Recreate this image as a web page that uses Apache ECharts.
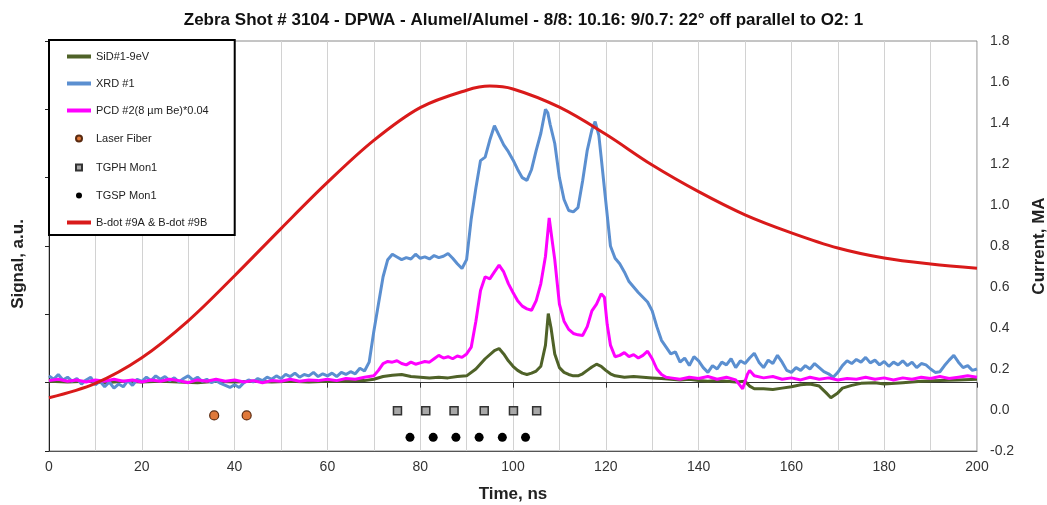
<!DOCTYPE html>
<html>
<head>
<meta charset="utf-8">
<script src="https://cdn.jsdelivr.net/npm/echarts@6/dist/echarts.min.js"></script>
<style>
  html, body { margin: 0; padding: 0; background: #ffffff; }
  #chart { width: 1047px; height: 505px; }
</style>
</head>
<body>
<div id="chart"></div>
<script>
// Axis tick values
const timeTicks = [0, 20, 40, 60, 80, 100, 120, 140, 160, 180, 200];
const currentTicks = [-0.2, 0.0, 0.2, 0.4, 0.6, 0.8, 1.0, 1.2, 1.4, 1.6, 1.8];

// SiD#1-9eV (signal, a.u.)
const sidTime = [0, 4, 8, 12, 16, 20, 24, 28, 32, 36, 40, 44, 48, 52, 56, 60, 63, 66, 68, 70, 72, 74, 76, 78, 80, 82, 84, 86, 88, 90, 92, 94, 96, 97, 98, 99, 100, 101, 102, 103, 104, 105, 106, 107, 107.6, 108.2, 109, 110, 111, 112, 113, 114, 115, 116, 117, 118, 119, 120, 121, 122, 124, 126, 128, 130, 132, 134, 136, 138, 140, 142, 144, 146, 148, 150, 151, 152, 154, 156, 158, 160, 162, 164, 166, 167.5, 168.5, 170, 171, 173, 175, 178, 180, 184, 188, 192, 196, 200];
const sidValue = [0.02, 0.01, 0.02, 0.00, 0.02, 0.01, 0.02, 0.01, 0.00, 0.02, 0.01, 0.02, 0.01, 0.02, 0.01, 0.02, 0.02, 0.03, 0.03, 0.05, 0.09, 0.11, 0.12, 0.09, 0.08, 0.07, 0.08, 0.07, 0.09, 0.10, 0.20, 0.35, 0.47, 0.50, 0.42, 0.32, 0.24, 0.18, 0.14, 0.12, 0.14, 0.17, 0.24, 0.55, 1.01, 0.80, 0.42, 0.22, 0.15, 0.12, 0.10, 0.10, 0.13, 0.18, 0.23, 0.27, 0.24, 0.18, 0.13, 0.10, 0.08, 0.09, 0.08, 0.07, 0.06, 0.05, 0.04, 0.05, 0.03, 0.02, 0.03, 0.02, 0.01, 0.02, -0.05, -0.09, -0.09, -0.10, -0.08, -0.06, -0.03, -0.02, -0.05, -0.15, -0.22, -0.15, -0.08, -0.04, -0.01, 0.00, -0.02, 0.00, 0.02, 0.03, 0.04, 0.05];

// XRD #1 (signal, a.u.)
const xrdTime = [
  0, 1, 2, 3, 4, 5, 6, 7, 8, 9, 10, 11, 12, 13, 14, 15, 16, 17, 18, 19,
  20, 21, 22, 23, 24, 25, 26, 27, 28, 29, 30, 31, 32, 33, 34, 35, 36, 37, 38, 39,
  40, 41, 42, 43, 44, 45, 46, 47, 48, 49, 50, 51, 52, 53, 54, 55, 56, 57, 58, 59,
  60, 61, 62, 63, 64, 65, 66, 67, 68, 69, 70, 71, 72, 73, 74, 75, 76, 77, 78, 79,
  80, 81, 82, 83, 84, 85, 86, 87, 88, 89, 90, 91, 92, 93, 94, 95, 96, 97, 98, 99,
  100, 101, 102, 103, 104, 105, 106, 107, 107.5, 108, 109, 110, 111, 112, 113, 114, 115, 116, 117, 117.7,
  118.5, 119, 120, 121, 122, 123, 124, 125, 126, 127, 128, 129, 130, 131, 132, 133, 134, 135, 136, 137,
  138, 139, 140, 141, 142, 143, 144, 145, 146, 147, 148, 149, 150, 151, 152, 153, 154, 155, 156, 157,
  158, 159, 160, 161, 162, 163, 164, 165, 166, 167, 168, 169, 170, 171, 172, 173, 174, 175, 176, 177,
  178, 179, 180, 181, 182, 183, 184, 185, 186, 187, 188, 189, 190, 191, 192, 193, 194, 195, 196, 197,
  198, 199, 200
];
const xrdValue = [
  0.10, 0.05, 0.12, 0.04, 0.08, 0.02, 0.06, -0.02, 0.04, 0.08, -0.03, 0.02, -0.06, 0.01, -0.08, -0.02, -0.06, 0.03, -0.04, 0.05,
  0.02, 0.08, 0.03, 0.10, 0.05, 0.09, 0.03, 0.07, 0.01, 0.06, 0.10, 0.04, 0.08, 0.02, 0.05, 0.00, 0.03, -0.01, -0.04, -0.07,
  -0.03, -0.07, 0.00, 0.04, 0.01, 0.06, 0.03, 0.08, 0.05, 0.10, 0.06, 0.12, 0.09, 0.14, 0.08, 0.12, 0.10, 0.15, 0.09, 0.13,
  0.10, 0.14, 0.09, 0.15, 0.12, 0.16, 0.13, 0.21, 0.17, 0.30, 0.75, 1.15, 1.55, 1.80, 1.88, 1.84, 1.80, 1.83, 1.81, 1.88,
  1.82, 1.84, 1.81, 1.86, 1.83, 1.85, 1.89, 1.82, 1.74, 1.67, 1.80, 2.40, 2.85, 3.25, 3.30, 3.55, 3.76, 3.62, 3.48, 3.38,
  3.26, 3.12, 3.00, 2.96, 3.12, 3.40, 3.65, 4.00, 3.95, 3.78, 3.50, 3.00, 2.68, 2.52, 2.50, 2.56, 2.95, 3.40, 3.70, 3.82,
  3.62, 3.30, 2.65, 2.00, 1.82, 1.74, 1.62, 1.48, 1.40, 1.32, 1.25, 1.18, 1.05, 0.82, 0.62, 0.52, 0.42, 0.45, 0.30, 0.36,
  0.25, 0.38, 0.32, 0.22, 0.15, 0.25, 0.20, 0.30, 0.26, 0.35, 0.22, 0.32, 0.28, 0.36, 0.43, 0.30, 0.22, 0.33, 0.28, 0.40,
  0.30, 0.18, 0.15, 0.22, 0.18, 0.25, 0.20, 0.28, 0.22, 0.16, 0.13, 0.08, 0.15, 0.25, 0.32, 0.28, 0.34, 0.30, 0.37, 0.29,
  0.33, 0.26, 0.31, 0.24, 0.30, 0.26, 0.32, 0.25, 0.30, 0.22, 0.28, 0.26, 0.20, 0.15, 0.16, 0.25, 0.33, 0.40, 0.30, 0.22,
  0.25, 0.18, 0.20
];

// PCD #2 (8 µm Be) scaled by 0.04 (signal, a.u.)
const pcdTime = [0, 2, 4, 6, 8, 10, 12, 14, 16, 18, 20, 22, 24, 26, 28, 30, 32, 34, 36, 38, 40, 42, 44, 46, 48, 50, 52, 54, 56, 58, 60, 62, 64, 66, 68, 70, 71, 72, 73, 74, 75, 76, 77, 78, 79, 80, 81, 82, 83, 84, 85, 86, 87, 88, 89, 90, 91, 92, 93, 94, 95, 96, 97, 98, 99, 100, 101, 102, 103, 104, 105, 106, 107, 107.8, 108.5, 109, 110, 111, 112, 113, 114, 115, 116, 117, 118, 119, 119.7, 120.3, 121, 122, 123, 124, 125, 126, 127, 128, 129, 130, 131, 132, 133, 134, 136, 138, 140, 142, 144, 146, 148, 149.5, 150.5, 151, 152, 154, 156, 158, 160, 162, 164, 166, 168, 170, 172, 174, 176, 178, 180, 182, 184, 186, 188, 190, 192, 194, 196, 198, 200];
const pcdValue = [0.03, 0.05, 0.02, 0.04, 0.01, 0.04, 0.02, 0.05, 0.02, 0.04, 0.01, 0.04, 0.02, 0.05, 0.03, 0.00, 0.04, 0.02, 0.05, 0.02, 0.04, 0.01, 0.03, 0.00, 0.03, 0.02, 0.05, 0.02, 0.04, 0.03, 0.05, 0.03, 0.06, 0.05, 0.08, 0.10, 0.18, 0.28, 0.31, 0.30, 0.32, 0.28, 0.26, 0.30, 0.27, 0.29, 0.31, 0.30, 0.35, 0.40, 0.36, 0.38, 0.35, 0.39, 0.37, 0.42, 0.52, 0.90, 1.35, 1.55, 1.52, 1.62, 1.72, 1.62, 1.45, 1.32, 1.20, 1.12, 1.08, 1.06, 1.20, 1.45, 1.85, 2.41, 2.05, 1.80, 1.15, 0.90, 0.78, 0.72, 0.70, 0.69, 0.82, 1.05, 1.15, 1.30, 1.25, 0.85, 0.55, 0.38, 0.40, 0.44, 0.38, 0.41, 0.36, 0.40, 0.46, 0.35, 0.20, 0.12, 0.08, 0.07, 0.05, 0.08, 0.06, 0.09, 0.05, 0.08, 0.04, -0.09, 0.12, 0.18, 0.10, 0.07, 0.09, 0.05, 0.07, 0.04, 0.08, 0.05, 0.07, 0.04, 0.06, 0.05, 0.08, 0.05, 0.07, 0.04, 0.07, 0.05, 0.08, 0.06, 0.09, 0.06, 0.08, 0.10, 0.08];

// Diagnostic timing markers (signal, a.u.)
const laserTime = [35.6, 42.6];
const laserValue = [-0.48, -0.48];
const tgphTime = [75.1, 81.2, 87.3, 93.8, 100.1, 105.1];
const tgphValue = [-0.41, -0.41, -0.41, -0.41, -0.41, -0.41];
const tgspTime = [77.8, 82.8, 87.7, 92.7, 97.7, 102.7];
const tgspValue = [-0.80, -0.80, -0.80, -0.80, -0.80, -0.80];

// B-dot #9A & #9B current (MA)
const bdotTime = [0, 10, 20, 30, 40, 50, 60, 70, 80, 90, 95, 100, 110, 120, 130, 140, 150, 160, 170, 180, 190, 200];
const bdotValue = [0.06, 0.13, 0.255, 0.435, 0.655, 0.885, 1.11, 1.315, 1.475, 1.56, 1.58, 1.566, 1.477, 1.345, 1.195, 1.065, 0.952, 0.864, 0.79, 0.741, 0.712, 0.692];

const pairs = (t, v) => t.map((x, i) => [x, v[i]]);

const SANS = '"Liberation Sans", Arial, sans-serif';
const lineIcon = 'path://M0,0H24V4H0Z';
const dotIcon = 'path://M0,0M24,13M9,6.5A3,3,0,1,1,15,6.5A3,3,0,1,1,9,6.5Z';
const squareIcon = 'path://M0,0M24,13M9,3.5H15V9.5H9Z';

const chart = echarts.init(document.getElementById('chart'), null, { renderer: 'canvas' });

chart.setOption({
  animation: false,
  backgroundColor: '#ffffff',
  title: {
    text: 'Zebra Shot # 3104 - DPWA - Alumel/Alumel - 8/8: 10.16: 9/0.7: 22\u00b0 off parallel to O2: 1',
    left: 'center',
    top: 7,
    textStyle: { fontFamily: SANS, fontSize: 17, fontWeight: 'bold', color: '#111' }
  },
  grid: {
    left: 49, right: 70, top: 41, bottom: 54,
    containLabel: false, outerBoundsMode: 'none',
    show: true, borderColor: '#8a8a8a', borderWidth: 1, backgroundColor: 'transparent'
  },
  legend: {
    orient: 'vertical',
    left: 49, top: 40,
    backgroundColor: '#ffffff',
    borderColor: '#000000', borderWidth: 2,
    padding: [10, 26, 6, 17],
    itemWidth: 24, itemHeight: 13, itemGap: 14,
    textStyle: { fontFamily: SANS, fontSize: 11, color: '#222', lineHeight: 13 },
    data: [
      { name: 'SiD#1-9eV', icon: lineIcon },
      { name: 'XRD #1', icon: lineIcon },
      { name: 'PCD #2(8 \u00b5m Be)*0.04', icon: lineIcon },
      { name: 'Laser Fiber', icon: dotIcon },
      { name: 'TGPH Mon1', icon: squareIcon },
      { name: 'TGSP Mon1', icon: dotIcon },
      { name: 'B-dot #9A & B-dot #9B', icon: lineIcon }
    ],
    z: 10
  },
  xAxis: [
    {
      type: 'value', position: 'bottom',
      min: 0, max: 200, interval: 20,
      name: 'Time, ns', nameLocation: 'middle', nameGap: 35,
      nameTextStyle: { fontFamily: SANS, fontSize: 17, fontWeight: 'bold', color: '#222' },
      axisLine: { show: true, onZero: false, lineStyle: { color: '#555', width: 1 } },
      axisTick: { show: false },
      axisLabel: {
        fontFamily: SANS, fontSize: 14, color: '#333', margin: 9,
        showMinLabel: true, showMaxLabel: true,
        customValues: timeTicks
      },
      splitLine: { show: true, lineStyle: { color: '#d2d2d2', width: 1 } },
      minorTick: { show: false, splitNumber: 2 },
      minorSplitLine: { show: true, lineStyle: { color: '#d2d2d2', width: 1 } }
    },
    {
      type: 'value', position: 'top',
      min: 0, max: 200, interval: 20,
      axisLine: { show: true, onZero: true, onZeroAxisIndex: 0, lineStyle: { color: '#333', width: 1 } },
      axisTick: { show: true, inside: true, length: 5, lineStyle: { color: '#333' } },
      axisLabel: { show: false },
      splitLine: { show: false }
    }
  ],
  yAxis: [
    {
      type: 'value', position: 'left',
      min: -1, max: 5, interval: 1,
      name: 'Signal, a.u.', nameLocation: 'middle', nameGap: 22, nameRotate: 90,
      nameTextStyle: { fontFamily: SANS, fontSize: 17, fontWeight: 'bold', color: '#222', padding: [0, 36, 0, 0] },
      axisLine: { show: true, onZero: false, lineStyle: { color: '#222', width: 1 } },
      axisTick: { show: true, length: 4, lineStyle: { color: '#222' } },
      axisLabel: { show: false },
      splitLine: { show: false }
    },
    {
      type: 'value', position: 'right',
      min: -0.2, max: 1.8, interval: 0.2,
      name: 'Current, MA', nameLocation: 'middle', nameGap: 54, nameRotate: 90,
      nameTextStyle: { fontFamily: SANS, fontSize: 17, fontWeight: 'bold', color: '#222' },
      axisLine: { show: false, onZero: false },
      axisTick: { show: false },
      axisLabel: {
        fontFamily: SANS, fontSize: 14, color: '#333', margin: 13,
        showMinLabel: true, showMaxLabel: true,
        customValues: currentTicks,
        formatter: (v) => v.toFixed(1)
      },
      splitLine: { show: false }
    }
  ],
  series: [
    {
      name: 'SiD#1-9eV', type: 'line', xAxisIndex: 0, yAxisIndex: 0,
      data: pairs(sidTime, sidValue),
      showSymbol: false, symbol: 'none',
      lineStyle: { color: '#4f6228', width: 3 }, itemStyle: { color: '#4f6228' }, z: 2
    },
    {
      name: 'XRD #1', type: 'line', xAxisIndex: 0, yAxisIndex: 0,
      data: pairs(xrdTime, xrdValue),
      showSymbol: false, symbol: 'none',
      lineStyle: { color: '#5b8fd0', width: 3 }, itemStyle: { color: '#5b8fd0' }, z: 3
    },
    {
      name: 'PCD #2(8 \u00b5m Be)*0.04', type: 'line', xAxisIndex: 0, yAxisIndex: 0,
      data: pairs(pcdTime, pcdValue),
      showSymbol: false, symbol: 'none',
      lineStyle: { color: '#ff00ff', width: 3 }, itemStyle: { color: '#ff00ff' }, z: 4
    },
    {
      name: 'Laser Fiber', type: 'scatter', xAxisIndex: 0, yAxisIndex: 0,
      data: pairs(laserTime, laserValue),
      symbol: 'circle', symbolSize: 9,
      itemStyle: { color: '#e0793a', borderColor: '#5a2a10', borderWidth: 1.2, opacity: 1 }, z: 5
    },
    {
      name: 'TGPH Mon1', type: 'scatter', xAxisIndex: 0, yAxisIndex: 0,
      data: pairs(tgphTime, tgphValue),
      symbol: 'rect', symbolSize: 8,
      itemStyle: { color: '#a8a8a8', borderColor: '#333333', borderWidth: 1.5, opacity: 1 }, z: 5
    },
    {
      name: 'TGSP Mon1', type: 'scatter', xAxisIndex: 0, yAxisIndex: 0,
      data: pairs(tgspTime, tgspValue),
      symbol: 'circle', symbolSize: 9,
      itemStyle: { color: '#000000', opacity: 1 }, z: 5
    },
    {
      name: 'B-dot #9A & B-dot #9B', type: 'line', xAxisIndex: 0, yAxisIndex: 1,
      data: pairs(bdotTime, bdotValue),
      smooth: 0.35, showSymbol: false, symbol: 'none',
      lineStyle: { color: '#d91a1a', width: 3 }, itemStyle: { color: '#d91a1a' }, z: 6
    }
  ]
});
</script>
</body>
</html>
